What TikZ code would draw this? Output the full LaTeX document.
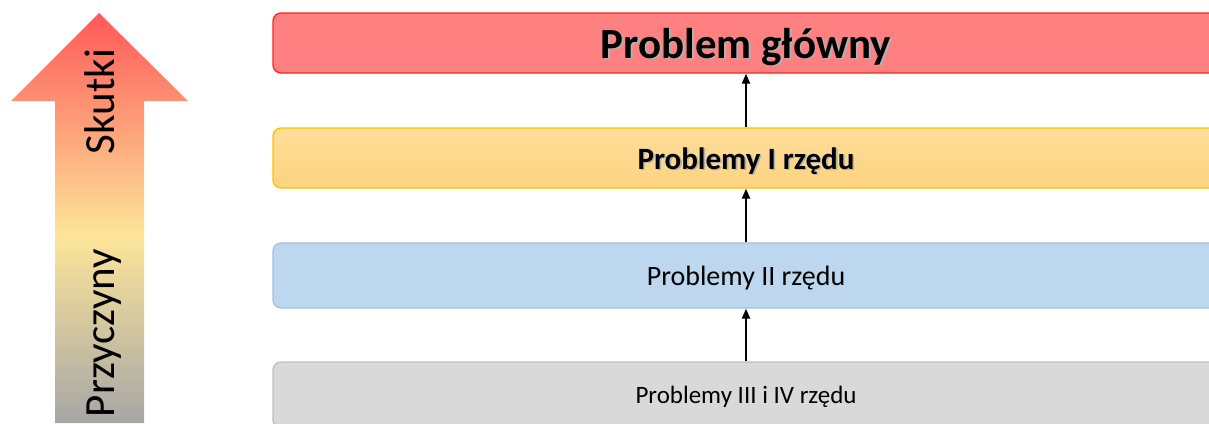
\documentclass[tikz,border=0pt]{standalone}
\usepackage{fontspec}
\setmainfont{Carlito}
\usetikzlibrary{arrows.meta}
\definecolor{ared}{RGB}{255,88,88}
\definecolor{ayellow}{RGB}{253,229,153}
\definecolor{agray}{RGB}{166,166,166}
\pgfdeclareverticalshading{arrshade}{100bp}{color(0bp)=(agray); color(25bp)=(agray); color(47.9bp)=(ayellow); color(75bp)=(ared); color(100bp)=(ared)}
\definecolor{redfill}{RGB}{255,128,128}
\definecolor{redline}{RGB}{240,40,40}
\definecolor{yeltop}{RGB}{254,222,155}
\definecolor{yelbot}{RGB}{253,211,126}
\definecolor{yelline}{RGB}{255,192,0}
\definecolor{bluefill}{RGB}{189,215,238}
\definecolor{blueline}{RGB}{168,190,228}
\definecolor{grayfill}{RGB}{217,217,217}
\definecolor{grayline}{RGB}{192,192,192}
\newcommand\shadowed[1]{\makebox[0pt][l]{\kern1.6pt\raisebox{-1.6pt}{\textcolor{black!30}{#1}}}#1}
\tikzset{
  levelbox/.style={rectangle, rounded corners=8pt, line width=1.3pt, minimum width=946pt, inner sep=0pt, text=black, text depth=0pt},
  uparrow/.style={line width=2pt, -{Triangle[length=10pt,width=8pt]}},
  sidetext/.style={rotate=90, anchor=base, font=\fontsize{43}{50}\selectfont, inner sep=0pt}
}
\begin{document}
\begin{tikzpicture}[x=1pt,y=-1pt]
\useasboundingbox (0,0) rectangle (1209,423);
\clip (0,0) rectangle (1209,423);
% left gradient arrow
\shade[shading=arrshade] (99,13) -- (188,101) -- (144,101) -- (144,423) -- (55,423) -- (55,101) -- (11,101) -- cycle;
\node[sidetext] (skutki) at (114,101.5) {Skutki};
\node[sidetext] (przyczyny) at (114,333) {Przyczyny};
% level boxes
\node[levelbox, draw=redline, fill=redfill, minimum height=60pt, text height=30pt, font=\fontsize{43}{50}\selectfont\bfseries] (main) at (746,43) {\shadowed{Problem główny}};
\node[levelbox, draw=yelline, top color=yeltop, bottom color=yelbot, minimum height=60pt, text height=22pt, font=\fontsize{31}{36}\selectfont\bfseries] (first) at (746,158) {\shadowed{Problemy I rzędu}};
\node[levelbox, draw=blueline, fill=bluefill, minimum height=65pt, text height=19pt, font=\fontsize{28}{33}\selectfont] (second) at (746,275.5) {Problemy II rzędu};
\node[levelbox, draw=grayline, fill=grayfill, minimum height=66pt, text height=16pt, font=\fontsize{25}{30}\selectfont] (third) at (746,395) {Problemy III i IV rzędu};
% connectors
\draw[uparrow] (first.north) -- (main.south);
\draw[uparrow] (second.north) -- (first.south);
\draw[uparrow] (third.north) -- (second.south);
\end{tikzpicture}
\end{document}
